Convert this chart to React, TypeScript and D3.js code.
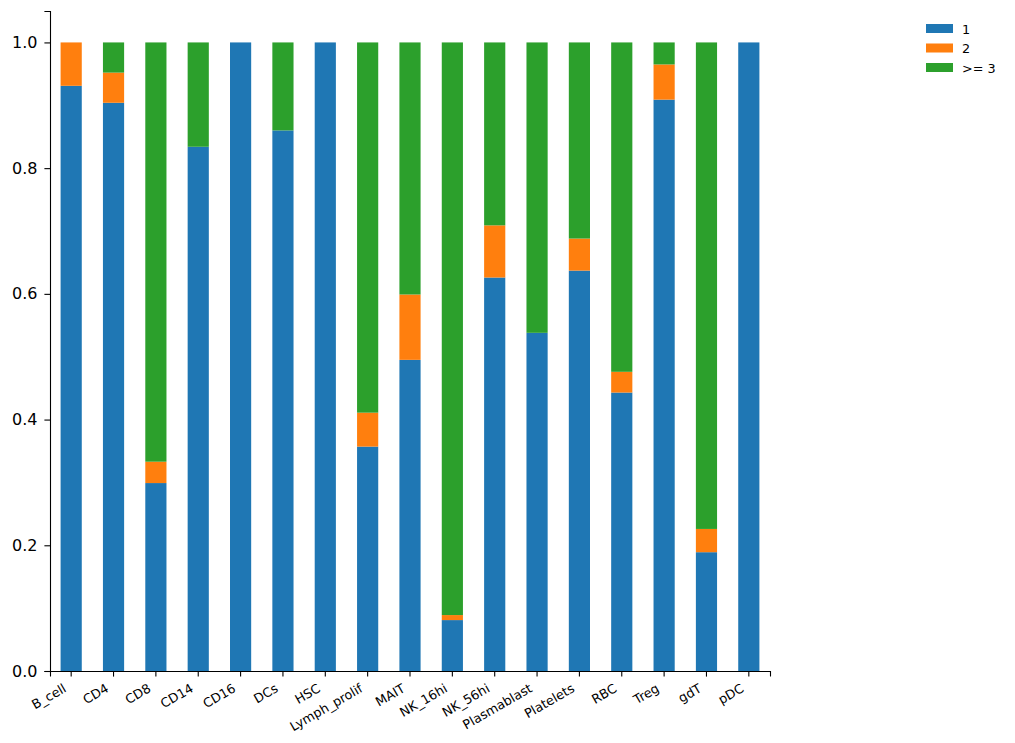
import React, { useEffect, useRef } from "react";
import { axisBottom, axisLeft, scaleBand, scaleLinear, select, stack } from "d3";

const categories = [
  "B_cell", "CD4", "CD8", "CD14", "CD16", "DCs", "HSC", "Lymph_prolif", "MAIT",
  "NK_16hi", "NK_56hi", "Plasmablast", "Platelets", "RBC", "Treg", "gdT", "pDC",
];
const series1 = [0.931, 0.904, 0.299, 0.834, 1.0, 0.86, 1.0, 0.357, 0.495, 0.081, 0.626, 0.538, 0.637, 0.443, 0.909, 0.189, 1.0];
const series2 = [0.069, 0.048, 0.034, 0, 0, 0, 0, 0.054, 0.104, 0.008, 0.083, 0, 0.051, 0.033, 0.056, 0.037, 0];
const series3 = [0, 0.048, 0.667, 0.166, 0, 0.14, 0, 0.589, 0.401, 0.911, 0.291, 0.462, 0.312, 0.524, 0.035, 0.774, 0];
const seriesNames = ["1", "2", ">= 3"];
const colors = ["#1f77b4", "#ff7f0e", "#2ca02c"];
const yTicks = [0, 0.2, 0.4, 0.6, 0.8, 1.0];

const W = 1015;
const H = 743;
const margin = { top: 11, right: 245, bottom: 72, left: 50 };

export default function App() {
  const ref = useRef<SVGSVGElement>(null);

  useEffect(() => {
    const svg = select(ref.current);
    svg.selectAll("*").remove();

    const rows = categories.map((c, i) => ({
      cat: c,
      "1": series1[i],
      "2": series2[i],
      ">= 3": series3[i],
    }));

    const x = scaleBand<string>()
      .domain(categories)
      .range([margin.left, W - margin.right])
      .paddingInner(0.5)
      .paddingOuter(0.25);

    const y = scaleLinear()
      .domain([0, 1.05])
      .range([H - margin.bottom, margin.top]);

    const stacked = stack<any>().keys(seriesNames)(rows);

    svg
      .append("g")
      .selectAll("g")
      .data(stacked)
      .join("g")
      .attr("fill", (d, i) => colors[i])
      .selectAll("rect")
      .data((d) => d)
      .join("rect")
      .attr("x", (d) => x(d.data.cat)!)
      .attr("width", x.bandwidth())
      .attr("y", (d) => y(d[1]))
      .attr("height", (d) => y(d[0]) - y(d[1]));

    const yAxis = svg
      .append("g")
      .attr("transform", `translate(${margin.left},0)`)
      .call(
        axisLeft(y)
          .tickValues(yTicks)
          .tickFormat((d) => (+d).toFixed(1))
          .tickSizeOuter(0)
          .tickSize(5.6)
          .tickPadding(7)
      );
    yAxis.selectAll("text").attr("font-size", 16).attr("font-family", "DejaVu Sans").attr("fill", "#000");

    const xAxis = svg
      .append("g")
      .attr("transform", `translate(0,${H - margin.bottom})`)
      .call(axisBottom(x).tickSizeOuter(0).tickSize(5.6));
    xAxis.selectAll(".tick text").remove();
    xAxis
      .selectAll<SVGGElement, string>(".tick")
      .append("g")
      .attr("transform", "translate(-4,20) rotate(-30)")
      .append("text")
      .attr("fill", "#000")
      .attr("text-anchor", "end")
      .attr("font-size", 12.8)
      .attr("font-family", "DejaVu Sans")
      .text((d) => d);

    svg.selectAll(".domain").attr("stroke", "#000").attr("stroke-width", 1.1);
    svg.selectAll(".tick line").attr("stroke", "#000").attr("stroke-width", 1.1);

    const legend = svg.append("g").attr("transform", "translate(926,24)");
    seriesNames.forEach((s, i) => {
      const g = legend.append("g").attr("transform", `translate(0,${i * 19.5})`);
      g.append("rect").attr("width", 27).attr("height", 9).attr("fill", colors[i]);
      g.append("text")
        .attr("x", 36)
        .attr("y", 9.8)
        .attr("font-size", 12.8)
        .attr("font-family", "DejaVu Sans")
        .text(s);
    });
  }, []);

  return (
    <div style={{ margin: -8 }}>
      <svg ref={ref} width={W} height={H} style={{ display: "block" }} />
    </div>
  );
}
